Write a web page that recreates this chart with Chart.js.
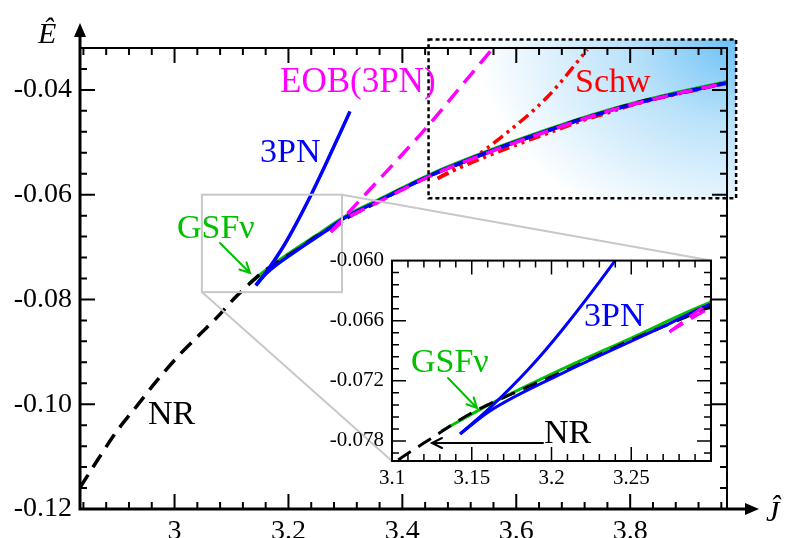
<!DOCTYPE html>
<html>
<head>
<meta charset="utf-8">
<script src="https://cdn.jsdelivr.net/npm/chart.js@4.4.1/dist/chart.umd.min.js"></script>
<style>
  html, body { margin: 0; padding: 0; background: #fff; }
  #wrap { position: relative; width: 787px; height: 538px; overflow: hidden; }
  #main { position: absolute; left: 0; top: 0; }
  #inset { position: absolute; left: 300px; top: 240px; }
</style>
</head>
<body>
<div id="wrap">
  <canvas id="main" width="787" height="538"></canvas>
  <canvas id="inset" width="430" height="260"></canvas>
</div>
<script>
// NR, black dashed
const nrJ = [2.834, 2.864, 2.899, 2.934, 2.969, 3.010, 3.045, 3.080, 3.103, 3.124, 3.150, 3.178, 3.207, 3.249, 3.270, 3.300, 3.360, 3.400, 3.450, 3.500, 3.550, 3.610, 3.660, 3.710, 3.760, 3.810, 3.870, 3.925, 3.972];
const nrE = [-0.1159, -0.1108, -0.1051, -0.1003, -0.0955, -0.0904, -0.0866, -0.0828, -0.0800, -0.0778, -0.0752, -0.0731, -0.0711, -0.0680, -0.0666, -0.0646, -0.0612, -0.0589, -0.0563, -0.0541, -0.0519, -0.0495, -0.0476, -0.0457, -0.0441, -0.0425, -0.0410, -0.0397, -0.0386];

// GSF nu, green
const gsfJ = [3.131, 3.163, 3.207, 3.249, 3.299, 3.360, 3.450, 3.550, 3.660, 3.760, 3.870, 3.972];
const gsfE = [-0.0770, -0.0742, -0.0708, -0.0678, -0.0642, -0.0609, -0.0561, -0.0517, -0.0474, -0.0439, -0.0408, -0.0384];

// 3PN, blue: stable branch and branch past the ISCO cusp
const pnLowJ = [3.1427, 3.1614, 3.2073, 3.2698, 3.299, 3.360, 3.450, 3.550, 3.660, 3.760, 3.870, 3.972];
const pnLowE = [-0.0773, -0.0750, -0.0712, -0.0666, -0.0644, -0.0611, -0.0563, -0.0519, -0.0476, -0.0441, -0.0410, -0.0386];
const pnUpJ = [3.1427, 3.1614, 3.1864, 3.2073, 3.2385, 3.265, 3.290, 3.308];
const pnUpE = [-0.0773, -0.0747, -0.0707, -0.0668, -0.0603, -0.0543, -0.0484, -0.0441];

// EOB(3PN), magenta dashed
const eobLowJ = [3.274, 3.299, 3.360, 3.450, 3.550, 3.660, 3.760, 3.870, 3.972];
const eobLowE = [-0.0671, -0.0648, -0.0613, -0.0564, -0.0520, -0.0477, -0.0441, -0.0410, -0.0386];
const eobUpJ = [3.274, 3.360, 3.444, 3.500, 3.558];
const eobUpE = [-0.0671, -0.0570, -0.0470, -0.0397, -0.0322];

// Schw, red dash-dot-dot
const schwLowJ = [3.462, 3.500, 3.550, 3.610, 3.660, 3.710, 3.760, 3.810, 3.870, 3.925, 3.972];
const schwLowE = [-0.0569, -0.0549, -0.0526, -0.0501, -0.0481, -0.0461, -0.0444, -0.0427, -0.0411, -0.0398, -0.0387];
const schwUpJ = [3.462, 3.520, 3.567, 3.655, 3.725];
const schwUpE = [-0.0569, -0.0533, -0.0496, -0.0413, -0.0323];

// tick labels
const mainJTicks = [3, 3.2, 3.4, 3.6, 3.8];
const mainETicks = [-0.12, -0.10, -0.08, -0.06, -0.04];
const insetJTicks = [3.1, 3.15, 3.2, 3.25];
const insetETicks = [-0.078, -0.072, -0.066, -0.060];

// regions marked on the main panel
const zoomBoxJ = [3.048, 3.294];
const zoomBoxE = [-0.0786, -0.060];
const blueBoxJ = [3.446, 3.986];
const blueBoxE = [-0.0607, -0.0304];

const SERIF = '"Liberation Serif", "Times New Roman", serif';

function pts(xs, ys) {
  return xs.map((x, i) => ({ x: x, y: ys[i] }));
}

function line(data, color, w, dash) {
  return {
    data: data, showLine: true, borderColor: color, borderWidth: w,
    borderDash: dash || [], pointRadius: 0, fill: false,
    cubicInterpolationMode: 'monotone'
  };
}

// first dataset ends up on top
function seriesSets(w) {
  return [
    line(pts(eobLowJ, eobLowE), '#ff00ff', w, [16, 9]),
    line(pts(eobUpJ, eobUpE), '#ff00ff', w, [16, 9]),
    line(pts(pnUpJ, pnUpE), '#0000ff', w),
    line(pts(pnLowJ, pnLowE), '#0000ff', w),
    line(pts(schwLowJ, schwLowE), '#ff0000', w, [12, 5, 3, 5, 3, 5]),
    line(pts(schwUpJ, schwUpE), '#ff0000', w, [12, 5, 3, 5, 3, 5]),
    line(pts(nrJ, nrE), '#000000', w, [15, 9]),
    line(pts(gsfJ, gsfE), '#00c000', w)
  ];
}

function txt(ctx, s, x, y, color, size, italic) {
  ctx.font = (italic ? 'italic ' : '') + size + 'px ' + SERIF;
  ctx.fillStyle = color;
  ctx.textAlign = 'left';
  ctx.textBaseline = 'alphabetic';
  ctx.fillText(s, x, y);
}

function arrow(ctx, x0, y0, x1, y1, color, w) {
  const ang = Math.atan2(y1 - y0, x1 - x0);
  const head = 10, half = 5;
  ctx.strokeStyle = color; ctx.lineWidth = w; ctx.lineCap = 'round';
  ctx.beginPath();
  ctx.moveTo(x0, y0); ctx.lineTo(x1, y1);
  const bx = x1 - head * Math.cos(ang), by = y1 - head * Math.sin(ang);
  ctx.moveTo(bx + half * Math.sin(ang), by - half * Math.cos(ang));
  ctx.lineTo(x1, y1);
  ctx.lineTo(bx - half * Math.sin(ang), by + half * Math.cos(ang));
  ctx.stroke();
}

// inward ticks on all four sides
function inwardTicks(chart, base, xStep, yBase, yStep, major, minor, w) {
  const { ctx, chartArea: a, scales: { x, y } } = chart;
  ctx.save();
  ctx.strokeStyle = '#000'; ctx.lineWidth = w;
  ctx.beginPath();
  let k0 = Math.ceil((x.min - base) / xStep - 1e-6), k1 = Math.floor((x.max - base) / xStep + 1e-6);
  for (let k = k0; k <= k1; k++) {
    const p = x.getPixelForValue(base + k * xStep);
    if (p < a.left + 1.5 || p > a.right - 1.5) continue;
    const len = k % 5 === 0 ? major : minor;
    ctx.moveTo(p, a.bottom); ctx.lineTo(p, a.bottom - len);
    ctx.moveTo(p, a.top); ctx.lineTo(p, a.top + len);
  }
  k0 = Math.ceil((y.min - yBase) / yStep - 1e-6); k1 = Math.floor((y.max - yBase) / yStep + 1e-6);
  for (let k = k0; k <= k1; k++) {
    const p = y.getPixelForValue(yBase + k * yStep);
    if (p < a.top + 1.5 || p > a.bottom - 1.5) continue;
    const len = k % 5 === 0 ? major : minor;
    ctx.moveTo(a.left, p); ctx.lineTo(a.left + len, p);
    ctx.moveTo(a.right, p); ctx.lineTo(a.right - len, p);
  }
  ctx.stroke();
  ctx.restore();
}

function scaleOpts(min, max, ticks, fmt, size, pad, fit, horiz) {
  return {
    type: 'linear', min: min, max: max,
    grid: { display: false, drawTicks: false },
    border: { display: false },
    afterBuildTicks: s => { s.ticks = ticks.map(v => ({ value: v })); },
    afterFit: s => { if (horiz) s.height = fit; else s.width = fit; },
    ticks: {
      padding: pad, color: '#000', autoSkip: false, maxRotation: 0,
      font: { family: SERIF, size: size }, callback: fmt
    }
  };
}

const insetDecor = {
  id: 'insetDecor',
  afterDatasetsDraw(chart) {
    const { ctx, chartArea: a } = chart;
    ctx.save();
    ctx.strokeStyle = '#000'; ctx.lineWidth = 2;
    ctx.strokeRect(a.left, a.top, a.right - a.left, a.bottom - a.top);
    ctx.restore();
    inwardTicks(chart, 3.1, 0.01, -0.078, 0.0012, 14, 7, 1.5);
    ctx.save();
    txt(ctx, '3PN', 284, 86, '#0000ff', 34);
    txt(ctx, 'GSFν', 111, 132, '#00c000', 34);
    txt(ctx, 'NR', 244, 203, '#000000', 34);
    arrow(ctx, 148, 138, 177, 168, '#00c000', 2);
    arrow(ctx, 243, 203, 132, 203, '#000000', 2);
    ctx.restore();
  }
};

const insetChart = new Chart(document.getElementById('inset'), {
  type: 'scatter',
  data: { datasets: seriesSets(3) },
  options: {
    responsive: false, animation: false, devicePixelRatio: 1,
    layout: { padding: { left: 0, right: 19, top: 19, bottom: 0 } },
    plugins: { legend: { display: false }, tooltip: { enabled: false } },
    scales: {
      x: scaleOpts(3.1, 3.3, insetJTicks, v => String(v), 21, 5, 39, true),
      y: scaleOpts(-0.08, -0.06, insetETicks, v => v.toFixed(3), 21, 8, 92, false)
    }
  },
  plugins: [insetDecor]
});

const mainDecor = {
  id: 'mainDecor',
  beforeDatasetsDraw(chart) {
    // pale blue glow in the weak-field box, strongest in the top right corner
    const { ctx, scales: { x, y } } = chart;
    const x0 = x.getPixelForValue(blueBoxJ[0]), x1 = x.getPixelForValue(blueBoxJ[1]);
    const y0 = y.getPixelForValue(blueBoxE[1]), y1 = y.getPixelForValue(blueBoxE[0]);
    const w = x1 - x0, h = y1 - y0, sy = h / w * 1.5;
    ctx.save();
    ctx.beginPath(); ctx.rect(x0, y0, w, h); ctx.clip();
    ctx.translate(x1, y0);
    ctx.scale(1, sy);
    const g = ctx.createRadialGradient(0, 0, 0, 0, 0, w);
    g.addColorStop(0, 'rgb(108,193,245)');
    g.addColorStop(0.35, 'rgb(186,226,250)');
    g.addColorStop(0.85, 'rgb(255,255,255)');
    g.addColorStop(1, 'rgb(255,255,255)');
    ctx.fillStyle = g;
    ctx.fillRect(-w * 2, -10, w * 3, h / sy + 20);
    ctx.restore();
  },
  afterDatasetsDraw(chart) {
    const { ctx, chartArea: a, scales: { x, y } } = chart;
    ctx.save();
    // dotted box round the weak-field region
    const bx0 = x.getPixelForValue(blueBoxJ[0]), bx1 = x.getPixelForValue(blueBoxJ[1]);
    const by0 = y.getPixelForValue(blueBoxE[1]), by1 = y.getPixelForValue(blueBoxE[0]);
    ctx.strokeStyle = '#000'; ctx.lineWidth = 2.5; ctx.setLineDash([4, 3]);
    ctx.strokeRect(bx0, by0, bx1 - bx0, by1 - by0);
    ctx.setLineDash([]);

    // grey zoom box and connectors to the inset
    const zx0 = x.getPixelForValue(zoomBoxJ[0]), zx1 = x.getPixelForValue(zoomBoxJ[1]);
    const zy0 = y.getPixelForValue(zoomBoxE[1]), zy1 = y.getPixelForValue(zoomBoxE[0]);
    const ia = insetChart.chartArea, off = [300, 240];
    ctx.strokeStyle = '#c8c8c8'; ctx.lineWidth = 2;
    ctx.strokeRect(zx0, zy0, zx1 - zx0, zy1 - zy0);
    ctx.beginPath();
    ctx.moveTo(zx1, zy0); ctx.lineTo(ia.right + off[0], ia.top + off[1]);
    ctx.moveTo(zx0, zy1); ctx.lineTo(ia.left + off[0], ia.bottom + off[1]);
    ctx.stroke();

    // frame: thick left/bottom axes with arrows, thin top/right
    ctx.strokeStyle = '#000'; ctx.fillStyle = '#000';
    ctx.lineWidth = 2;
    ctx.beginPath();
    ctx.moveTo(a.left, a.top); ctx.lineTo(a.right, a.top); ctx.lineTo(a.right, a.bottom);
    ctx.stroke();
    ctx.lineWidth = 3;
    ctx.beginPath();
    ctx.moveTo(a.left, 36); ctx.lineTo(a.left, a.bottom); ctx.lineTo(746, a.bottom);
    ctx.stroke();
    ctx.beginPath();
    ctx.moveTo(a.left, 23); ctx.lineTo(a.left - 6, 37); ctx.lineTo(a.left + 6, 37); ctx.closePath();
    ctx.fill();
    ctx.beginPath();
    ctx.moveTo(759, a.bottom); ctx.lineTo(745, a.bottom - 6); ctx.lineTo(745, a.bottom + 6); ctx.closePath();
    ctx.fill();
    ctx.restore();

    inwardTicks(chart, 3.0, 0.04, -0.12, 0.004, 15, 7, 2);

    ctx.save();
    txt(ctx, 'Ê', 38, 43, '#000', 30, true);
    txt(ctx, 'Ĵ', 766, 521, '#000', 30, true);
    txt(ctx, 'EOB(3PN)', 280, 92, '#ff00ff', 35);
    txt(ctx, '3PN', 260, 162, '#0000ff', 34);
    txt(ctx, 'Schw', 575, 92, '#ff0000', 34);
    txt(ctx, 'GSFν', 177, 238, '#00c000', 34);
    txt(ctx, 'NR', 148, 424, '#000000', 34);
    arrow(ctx, 220, 243, 250, 273, '#00c000', 2);
    ctx.restore();
  }
};

const mainChart = new Chart(document.getElementById('main'), {
  type: 'scatter',
  data: { datasets: seriesSets(3.5) },
  options: {
    responsive: false, animation: false, devicePixelRatio: 1,
    layout: { padding: { left: 0, right: 60, top: 48, bottom: 0 } },
    plugins: { legend: { display: false }, tooltip: { enabled: false } },
    scales: {
      x: scaleOpts(2.834, 3.970, mainJTicks, v => String(v), 28, 6, 29, true),
      y: scaleOpts(-0.12, -0.032, mainETicks, v => v.toFixed(2), 28, 8, 80, false)
    }
  },
  plugins: [mainDecor]
});
</script>
</body>
</html>
